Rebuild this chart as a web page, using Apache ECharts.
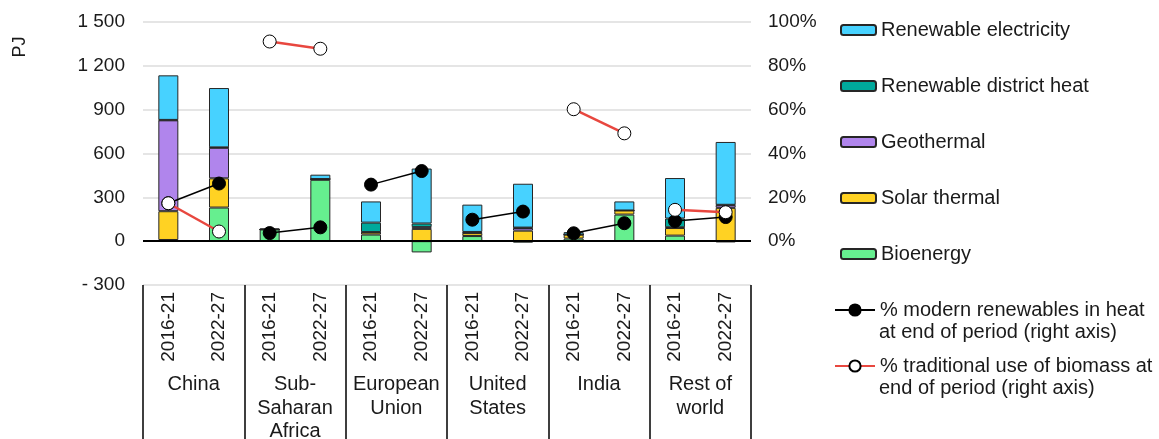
<!DOCTYPE html>
<html>
<head>
<meta charset="utf-8">
<script src="https://cdn.jsdelivr.net/npm/echarts@6/dist/echarts.min.js"></script>
<style>
html,body{margin:0;padding:0;background:#fff;}
#chart{width:1159px;height:439px;}
</style>
</head>
<body>
<div id="chart"></div>
<script>
// ---- data ----
const periods = ['2016-21','2022-27','2016-21','2022-27','2016-21','2022-27','2016-21','2022-27','2016-21','2022-27','2016-21','2022-27'];
const regions = ['China','Sub-\nSaharan\nAfrica','European\nUnion','United\nStates','India','Rest of\nworld'];
const bioenergy     = [8, 230, 80, 420, 45, -77, 35, -10, 18, 182, 38, -8];
const solarThermal  = [197, 200, 0, 5, 15, 84, 20, 72, 27, 28, 52, 228];
const geothermal    = [622, 209, 0, 0, 2, 12, 3, 18, 0, 0, 5, 18];
const districtHeat  = [3, 3, 0, 0, 65, 25, 5, 3, 0, 0, 60, 3];
const renewElec     = [305, 406, 7, 30, 145, 376, 187, 300, 17, 62, 277, 430];
const modernShare   = [17.3, 26.3, 3.7, 6.3, 25.8, 32.0, 9.8, 13.5, 3.6, 8.2, 9.2, 11.0];
const tradShare     = [17.3, 4.4, 91.1, 87.8, null, null, null, null, 60.2, 49.2, 14.3, 13.2];
const leftTicks = {min: -300, max: 1500, interval: 300};
const rightTicks = {min: -20, max: 100, interval: 20};

const FONT = '"Liberation Sans", Arial, sans-serif';
const border = {borderColor: '#262626', borderWidth: 1};

function fmtThousands(v){
  const s = Math.abs(v).toString().replace(/\B(?=(\d{3})+(?!\d))/g, ' ');
  return v < 0 ? '- ' + s : s;
}

function barSeries(name, data, color){
  return {
    name: name, type: 'bar', stack: 'total', data: data,
    xAxisIndex: 0, yAxisIndex: 0, barWidth: 20,
    itemStyle: Object.assign({color: color}, border),
    emphasis: {disabled: true}
  };
}

const series = [
  barSeries('Bioenergy', bioenergy, '#66ef8f'),
  barSeries('Solar thermal', solarThermal, '#ffd223'),
  barSeries('Geothermal', geothermal, '#b085ec'),
  barSeries('Renewable district heat', districtHeat, '#00a99c'),
  barSeries('Renewable electricity', renewElec, '#47d2ff')
];
series[0].markLine = {
  silent: true, symbol: ['none','none'], label: {show: false},
  lineStyle: {color: '#000', width: 2, type: 'solid'},
  data: [{yAxis: 0}], z: 10
};

function pairSeries(name, values, lineColor, lineWidth, fill, z){
  const out = [];
  for (let g = 0; g < values.length; g += 2){
    if (values[g] == null) continue;
    const d = values.map(() => null);
    d[g] = values[g]; d[g+1] = values[g+1];
    out.push({
      name: name, type: 'line', data: d, xAxisIndex: 0, yAxisIndex: 1,
      connectNulls: false, symbol: 'circle', symbolSize: 13, z: z,
      lineStyle: {color: lineColor, width: lineWidth},
      itemStyle: {color: fill, borderColor: '#000', borderWidth: 1},
      emphasis: {disabled: true}
    });
  }
  return out;
}
const modernName = '% modern renewables in heat';
const tradName = '% traditional use of biomass at';
series.push(...pairSeries(modernName, modernShare, '#000', 1.5, '#000', 5));
series.push(...pairSeries(tradName, tradShare, '#e8473f', 2.5, '#fff', 6));

function leg(name, top, left, w, h){
  return {
    data: [name], top: top, left: left, itemWidth: w, itemHeight: h,
    selectedMode: false, padding: 0,
    textStyle: {fontFamily: FONT, fontSize: 20, color: '#1a1a1a', lineHeight: 20}
  };
}

const option = {
  animation: false,
  backgroundColor: '#fff',
  grid: {left: 143, right: 408, top: 22, bottom: 154, containLabel: false, outerBoundsMode: 'none'},
  legend: [
    leg('Renewable electricity', 20, 840, 35, 10),
    leg('Renewable district heat', 76, 840, 35, 10),
    leg('Geothermal', 132, 840, 35, 10),
    leg('Solar thermal', 188, 840, 35, 10),
    leg('Bioenergy', 244, 840, 35, 10),
    leg(modernName, 300, 834, 40, 14),
    leg(tradName, 356, 834, 40, 14)
  ],
  graphic: [
    {type: 'text', left: 879, top: 322, style: {text: 'at end of period (right axis)', font: '20px ' + FONT, fill: '#1a1a1a'}},
    {type: 'text', left: 879, top: 378, style: {text: 'end of period (right axis)', font: '20px ' + FONT, fill: '#1a1a1a'}},
    {type: 'text', x: 20, y: 47, rotation: Math.PI/2, style: {text: 'PJ', font: '18px ' + FONT, fill: '#1a1a1a', align: 'center', verticalAlign: 'middle'}}
  ],
  xAxis: [
    {
      type: 'category', data: periods, position: 'bottom',
      axisLine: {show: false, onZero: false}, axisTick: {show: false},
      axisLabel: {rotate: 90, margin: 7, fontFamily: FONT, fontSize: 19, color: '#1a1a1a', interval: 0}
    },
    {
      type: 'category', data: regions, position: 'bottom', offset: 0,
      axisLine: {show: false, onZero: false},
      axisTick: {show: true, length: 156, lineStyle: {color: '#000', width: 1.5}},
      axisLabel: {margin: 88, fontFamily: FONT, fontSize: 20, lineHeight: 23.5, color: '#1a1a1a', interval: 0, align: 'center', verticalAlign: 'top'}
    }
  ],
  yAxis: [
    {
      type: 'value', min: leftTicks.min, max: leftTicks.max, interval: leftTicks.interval,
      axisLine: {show: false}, axisTick: {show: false},
      splitLine: {show: true, lineStyle: {color: '#dcdcdc', width: 1.5}},
      axisLabel: {margin: 18, fontFamily: FONT, fontSize: 19, color: '#1a1a1a', formatter: fmtThousands}
    },
    {
      type: 'value', min: rightTicks.min, max: rightTicks.max, interval: rightTicks.interval,
      position: 'right',
      axisLine: {show: false}, axisTick: {show: false}, splitLine: {show: false},
      axisLabel: {margin: 17, fontFamily: FONT, fontSize: 19, color: '#1a1a1a',
        formatter: function(v){ return v < 0 ? '' : v + '%'; }}
    }
  ],
  series: series
};

const chart = echarts.init(document.getElementById('chart'), null, {renderer: 'canvas'});
chart.setOption(option);
</script>
</body>
</html>
